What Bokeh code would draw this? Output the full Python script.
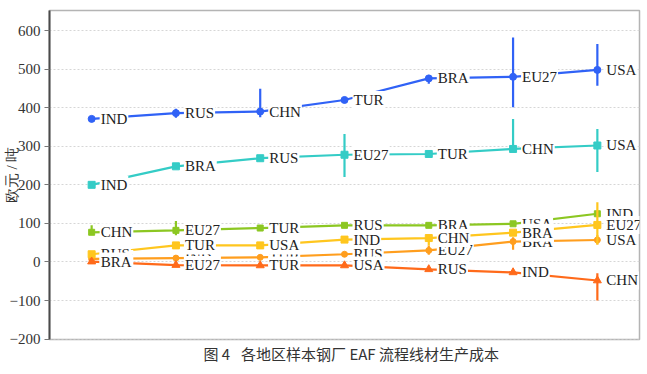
import math
from bokeh.plotting import figure
from bokeh.models import Range1d, FixedTicker, Title, ColumnDataSource
from bokeh.core.properties import value
from bokeh.embed import file_html
from bokeh.resources import INLINE

# ---------------- data ----------------
rank = [0, 1, 2, 3, 4, 5, 6]

blue_labels = ["IND", "RUS", "CHN", "TUR", "BRA", "EU27", "USA"]
blue_vals = [371, 386, 390, 420, 476, 480, 498]
blue_lo = [371, 374, 375, 420, 462, 401, 457]
blue_hi = [371, 397, 449, 420, 485, 582, 565]

teal_labels = ["IND", "BRA", "RUS", "EU27", "TUR", "CHN", "USA"]
teal_vals = [200, 248, 269, 278, 280, 293, 302]
teal_lo = [200, 248, 269, 220, 280, 285, 233]
teal_hi = [200, 248, 269, 332, 280, 371, 345]

green_labels = ["CHN", "EU27", "TUR", "RUS", "BRA", "USA", "IND"]
green_vals = [77, 82, 88, 95, 95, 99, 125]
green_lo = [70, 69, 88, 95, 95, 99, 125]
green_hi = [95, 106, 88, 95, 95, 99, 125]

lorange_labels = ["CHN", "IND", "TUR", "RUS", "EU27", "BRA", "USA"]
lorange_vals = [8, 10, 12, 20, 30, 53, 57]
lorange_lo = [8, 10, 12, 20, 19, 32, 45]
lorange_hi = [8, 10, 12, 20, 43, 64, 69]

yellow_labels = ["RUS", "TUR", "USA", "IND", "CHN", "BRA", "EU27"]
yellow_vals = [20, 43, 43, 58, 62, 76, 96]
yellow_lo = [14, 43, 43, 58, 43, 76, 45]
yellow_hi = [26, 43, 43, 58, 70, 76, 155]

dorange_labels = ["BRA", "EU27", "TUR", "USA", "RUS", "IND", "CHN"]
dorange_vals = [1, -8, -9, -9, -19, -27, -48]
dorange_lo = [-4, -8, -9, -9, -24, -27, -100]
dorange_hi = [6, -8, -9, -9, -14, -27, -29]

y_ticks = [-200, -100, 0, 100, 200, 300, 400, 500, 600]
y_label = "欧元 / 吨"
caption = "图 4\u2002 各地区样本钢厂 EAF 流程线材生产成本"

series = [
    (blue_labels, blue_vals, blue_lo, blue_hi),
    (teal_labels, teal_vals, teal_lo, teal_hi),
    (green_labels, green_vals, green_lo, green_hi),
    (lorange_labels, lorange_vals, lorange_lo, lorange_hi),
    (yellow_labels, yellow_vals, yellow_lo, yellow_hi),
    (dorange_labels, dorange_vals, dorange_lo, dorange_hi),
]
styles = [
    dict(color="#3062F6", marker="circle", size=7),
    dict(color="#34CCC6", marker="square", size=7),
    dict(color="#8CC722", marker="square", size=6),
    dict(color="#FF9E1E", marker="circle", size=6),
    dict(color="#FFC61E", marker="square", size=7),
    dict(color="#FF6A1A", marker="triangle", size=8),
]

# ---------------- figure ----------------
p = figure(width=647, height=374, output_backend="svg", toolbar_location=None,
           x_range=Range1d(-0.5, 6.5), y_range=Range1d(-201, 652),
           min_border_left=49, min_border_right=8, min_border_top=10,
           min_border_bottom=35, background_fill_color="white",
           border_fill_color="white")
p.outline_line_color = "#b4b4b4"
p.outline_line_width = 1.5
p.xaxis.visible = False
p.xgrid.visible = False
p.ygrid.grid_line_color = "#d6d6d6"
p.ygrid.grid_line_dash = "2 2"
p.ygrid.grid_line_width = 1
p.ygrid.ticker = FixedTicker(ticks=y_ticks)

ya = p.yaxis[0]
ya.ticker = FixedTicker(ticks=y_ticks)
ya.major_label_overrides = {t: (("\u2212" + str(-t)) if t < 0 else str(t)) for t in y_ticks}
ya.major_label_text_font = "Liberation Serif"
ya.major_label_text_font_size = "15px"
ya.major_label_text_color = "#333333"
ya.major_label_standoff = 4
ya.major_tick_out = 5
ya.major_tick_in = 0
ya.minor_tick_out = 0
ya.minor_tick_in = 0
ya.major_tick_line_color = "#777777"
ya.axis_line_color = "#4a4a4a"
ya.axis_line_width = 2
ya.axis_label = y_label
ya.axis_label_text_font = "Liberation Serif"
ya.axis_label_text_font_size = "15px"
ya.axis_label_text_font_style = "normal"
ya.axis_label_text_color = "#333333"
ya.axis_label_standoff = -13

# lines, error bars, markers
for (labs, vals, lo, hi), st in zip(series, styles):
    src = ColumnDataSource(dict(x=rank, y=vals, lo=lo, hi=hi, t=labs))
    p.line("x", "y", source=src, line_color=st["color"], line_width=2.2)
    p.segment(x0="x", y0="lo", x1="x", y1="hi", source=src,
              line_color=st["color"], line_width=2.2)
    p.scatter("x", "y", source=src, marker=st["marker"], size=st["size"],
              fill_color=st["color"], line_color=st["color"])

# labels with white boxes
for (labs, vals, lo, hi), st in zip(series, styles):
    src = ColumnDataSource(dict(x=rank, y=vals, t=labs))
    p.text("x", "y", text="t", source=src, x_offset=8,
           text_align="left", text_baseline="middle",
           text_font=value("Liberation Serif"), text_font_size="15px",
           text_color="#222222", background_fill_color="white",
           padding=1)

# caption
p.add_layout(Title(text=caption, align="left", offset=154, standoff=2,
                   text_font="Noto Sans CJK SC", text_font_size="15px",
                   text_font_style="normal", text_color="#333333"), "below")

open("out.html", "w").write(file_html(p, INLINE))
